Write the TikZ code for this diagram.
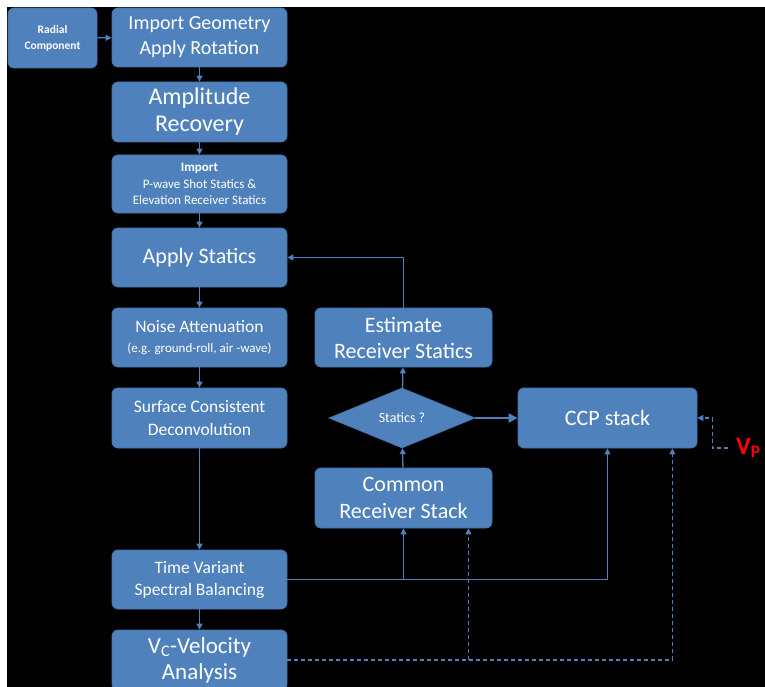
\documentclass[tikz,border=0pt]{standalone}
\usepackage{xcolor}
\usepackage{fontspec}
\setmainfont{Carlito}
\usepackage{tikz}
\usetikzlibrary{shapes.geometric, arrows.meta, positioning}
\definecolor{boxblue}{HTML}{4F81BD}
\definecolor{boxedge}{HTML}{4474AC}
\definecolor{lineblue}{HTML}{4F81BD}
\tikzset{
    stage/.style={rectangle, rounded corners=6pt, draw=boxedge, fill=boxblue, line width=0.8pt, text=white, align=center, inner sep=0pt, minimum width=175pt, minimum height=59pt},
    decision/.style={diamond, draw=boxedge, fill=boxblue, line width=0.8pt, text=white, inner sep=0pt, minimum width=146pt, minimum height=60pt, aspect=2.4},
    flow/.style={draw=lineblue, line width=1.3pt, -{Triangle[length=6pt,width=6pt]}},
    dflow/.style={flow, dash pattern=on 4pt off 3pt}
}

\begin{document}
\begin{tikzpicture}[x=1pt, y=-1pt]
            % Frame setup
            \useasboundingbox (0,0) rectangle (765,687);
            \fill[white] (0,0) rectangle (765,687);
            \fill[black] (7,7) rectangle (765,687);

            % Processing column
            \node[stage, minimum width=89pt, minimum height=60pt, font=\bfseries\fontsize{11.5}{16}\selectfont] (radial) at (52.5, 38) {Radial\\Component};
            \node[stage, font=\fontsize{20}{25}\selectfont] (geom) at (199.5, 37.5) {Import Geometry\\Apply Rotation};
            \node[stage, minimum height=60pt, font=\fontsize{24}{27}\selectfont] (ampl) at (199.5, 112) {Amplitude\\Recovery};
            \node[stage, minimum height=58pt, font=\fontsize{13}{16.5}\selectfont] (imp) at (199.5, 184) {\textbf{Import}\\P-wave Shot Statics \&\\Elevation Receiver Statics};
            \node[stage, font=\fontsize{22}{26}\selectfont] (apply) at (199.5, 257.5) {Apply Statics};
            \node[stage, font=\fontsize{17.5}{21}\selectfont] (noise) at (199.5, 337.5) {Noise Attenuation\\[-1pt]{\fontsize{13}{15}\selectfont (e.g. ground-roll, air -wave)}};
            \node[stage, minimum height=60pt, font=\fontsize{17.5}{22.5}\selectfont] (surf) at (199.5, 418) {Surface Consistent\\Deconvolution};
            \node[stage, font=\fontsize{17.5}{22}\selectfont] (tvsb) at (199.5, 579.5) {Time Variant\\Spectral Balancing};
            \node[stage, minimum height=60pt, font=\fontsize{23}{26}\selectfont] (vel) at (199.5, 660) {V\textsubscript{C}-Velocity\\Analysis};

            % Receiver statics loop
            \node[stage, minimum width=177pt, font=\fontsize{22}{26}\selectfont] (est) at (403.5, 337.5) {Estimate\\Receiver Statics};
            \node[decision, font=\fontsize{14}{16}\selectfont] (stat) at (402, 418) {Statics ?};
            \node[stage, minimum width=177pt, minimum height=60pt, font=\fontsize{22}{27}\selectfont] (crs) at (403.5, 498) {Common\\Receiver Stack};
            \node[stage, minimum width=179pt, minimum height=60pt, font=\fontsize{22}{26}\selectfont] (ccp) at (607.5, 418) {CCP stack};
            \node[anchor=west, inner sep=0pt, outer sep=8pt, text=red, font=\bfseries\fontsize{25}{27}\selectfont] (vp) at (728, 448) {V\textsubscript{P}};

            % Main flow
            \draw[flow] (radial) -- (geom);
            \draw[flow] (geom) -- (ampl);
            \draw[flow] (ampl) -- (imp);
            \draw[flow] (imp) -- (apply);
            \draw[flow] (apply) -- (noise);
            \draw[flow] (noise) -- (surf);
            \draw[flow] (surf) -- (tvsb);
            \draw[flow] (tvsb) -- (vel);

            % Loop and stacks
            \draw[flow] (crs) -- (stat);
            \draw[flow] (stat) -- (est);
            \draw[flow] (est.north) |- (apply.east);
            \draw[flow, line width=2.6pt, -{Triangle[length=9pt,width=9pt]}] (stat.east) -- (ccp.west);
            \coordinate (tap) at (tvsb.east -| crs.south);
            \draw[flow] (tvsb.east) -| (ccp.south);
            \draw[flow] (tap) -- (crs.south);

            % Velocity links
            \coordinate (crsin) at ([xshift=-24pt]crs.south east);
            \coordinate (ccpin) at ([xshift=-25pt]ccp.south east);
            \draw[dflow] (vel.east) -| (ccpin);
            \draw[dflow] (vel.east -| crsin) -- (crsin);
            \draw[dflow] (vp.west) -| ([xshift=15pt]ccp.east) -- (ccp.east);

        \end{tikzpicture}
\end{document}
